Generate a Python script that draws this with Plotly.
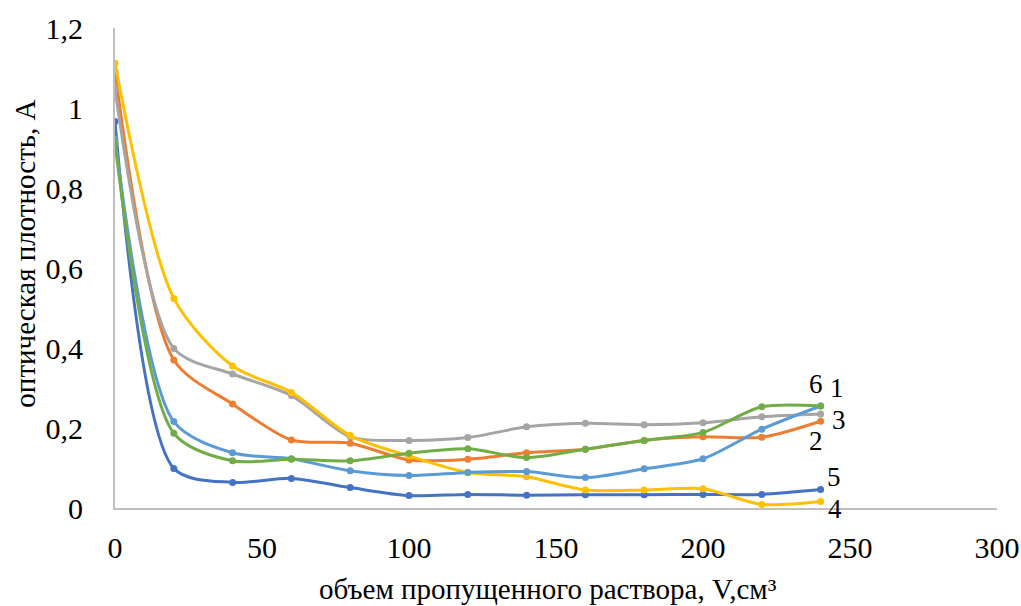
import plotly.graph_objects as go

volume = [0, 20, 40, 60, 80, 100, 120, 140, 160, 180, 200, 220, 240]

series_1 = [0.922, 0.216, 0.138, 0.123, 0.093, 0.081, 0.089, 0.091, 0.076, 0.098, 0.123, 0.197, 0.255]
series_2 = [1.091, 0.370, 0.260, 0.170, 0.162, 0.120, 0.122, 0.138, 0.147, 0.169, 0.178, 0.177, 0.217]
series_3 = [1.047, 0.399, 0.335, 0.281, 0.178, 0.169, 0.176, 0.203, 0.212, 0.208, 0.213, 0.228, 0.235]
series_4 = [1.112, 0.524, 0.355, 0.289, 0.181, 0.130, 0.089, 0.078, 0.045, 0.045, 0.048, 0.009, 0.016]
series_5 = [0.966, 0.099, 0.064, 0.074, 0.051, 0.031, 0.034, 0.032, 0.033, 0.033, 0.034, 0.034, 0.046]
series_6 = [0.912, 0.187, 0.118, 0.122, 0.118, 0.137, 0.148, 0.126, 0.147, 0.169, 0.189, 0.253, 0.255]

series_names = ["5", "2", "3", "4", "1", "6"]
series_values = [series_5, series_2, series_3, series_4, series_1, series_6]
series_colors = ["#4472C4", "#ED7D31", "#A5A5A5", "#FFC000", "#5B9BD5", "#70AD47"]

label_text = ["6", "1", "3", "2", "5", "4"]
label_x = [238.4, 245.6, 246.3, 238.4, 244.6, 244.9]
label_y = [0.31, 0.261, 0.261, 0.1675, 0.0375, 0.0375]
label_yanchor = ["middle", "bottom", "top", "middle", "bottom", "top"]

y_ticks = [0, 0.2, 0.4, 0.6, 0.8, 1.0, 1.2]
y_ticktext = ["0", "0,2", "0,4", "0,6", "0,8", "1", "1,2"]
x_ticks = [0, 50, 100, 150, 200, 250, 300]

font_family = "Liberation Serif"

fig = go.Figure()
for name, vals, col in zip(series_names, series_values, series_colors):
    fig.add_trace(go.Scatter(
        x=volume, y=vals, name=name, mode="lines+markers",
        line=dict(color=col, width=3, shape="spline", smoothing=0.8),
        marker=dict(color=col, size=7),
        showlegend=False,
    ))

for t, lx, ly, ya in zip(label_text, label_x, label_y, label_yanchor):
    fig.add_annotation(x=lx, y=ly, text=t, showarrow=False,
                       xanchor="center", yanchor=ya, borderpad=0,
                       font=dict(family=font_family, size=27, color="black"))

fig.add_annotation(xref="paper", yref="paper", x=0.491, y=-0.169,
                   xanchor="center", yanchor="middle",
                   text="объем пропущенного раствора, V,см³", showarrow=False,
                   font=dict(family=font_family, size=29, color="black"))
fig.add_annotation(xref="paper", yref="paper", x=-0.102, y=0.53,
                   xanchor="center", yanchor="middle",
                   text="оптическая плотность, А", showarrow=False, textangle=-90,
                   font=dict(family=font_family, size=29, color="black"))

fig.update_layout(
    width=1021, height=606,
    margin=dict(l=115, r=24, t=28, b=98),
    paper_bgcolor="white", plot_bgcolor="white",
    font=dict(family=font_family, size=29, color="black"),
)
fig.update_xaxes(range=[0, 300], tickvals=x_ticks, showgrid=False, zeroline=False,
                 showline=True, linecolor="#BFBFBF", linewidth=2, ticks="", automargin=False,
                 ticklabelstandoff=12, tickfont=dict(family=font_family, size=30))
fig.update_yaxes(range=[0, 1.2], tickvals=y_ticks, ticktext=y_ticktext, showgrid=False,
                 zeroline=False, showline=True, linecolor="#BFBFBF", linewidth=2, ticks="",
                 automargin=False,
                 ticklabelstandoff=24, tickfont=dict(family=font_family, size=30))

fig.write_html("out.html")
